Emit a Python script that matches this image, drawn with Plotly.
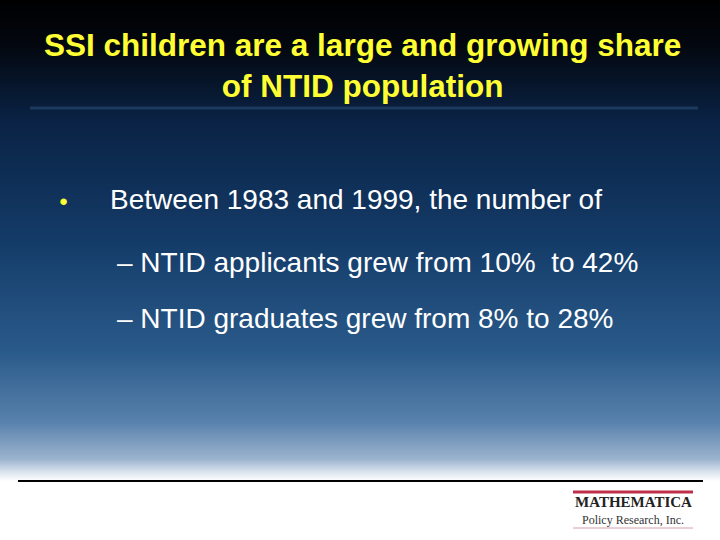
import plotly.graph_objects as go
import numpy as np

title_lines = ["SSI children are a large and growing share", "of NTID population"]
bullet = "Between 1983 and 1999, the number of"
groups = ["NTID applicants", "NTID graduates"]
start_pct = [10, 8]
end_pct = [42, 28]

W, H = 720, 540
ys = np.arange(0, H + 1, 4)
z = [[y / H, y / H] for y in ys]
scale = [[0, '#000000'], [0.08, '#03070e'], [0.22, '#0a2244'], [0.45, '#143c69'],
         [0.65, '#2a5a8a'], [0.78, '#5881ac'], [0.85, '#9cb4ce'], [0.875, '#dfe7f0'],
         [0.89, '#ffffff'], [1, '#ffffff']]

fig = go.Figure(go.Heatmap(x=[0, W], y=ys, z=z, colorscale=scale, showscale=False,
                           hoverinfo='skip', zsmooth='best'))

fig.update_layout(width=W, height=H, margin=dict(l=0, r=0, t=0, b=0),
                  xaxis=dict(range=[0, W], visible=False),
                  yaxis=dict(range=[H, 0], visible=False),
                  plot_bgcolor='white', paper_bgcolor='white')

f = "Liberation Sans, Arial, sans-serif"
fig.add_annotation(x=362, y=65, text="<b>" + "<br>".join(title_lines) + "</b>", showarrow=False,
                   font=dict(family=f, size=31.5, color='#ffff33'), align='center')
fig.add_shape(type='line', x0=30, x1=698, y0=108, y1=108, line=dict(color='#1c3a5e', width=3))
fig.add_annotation(x=63, y=200, text="●", showarrow=False, font=dict(family=f, size=15, color='#ffff33'))
fig.add_annotation(x=108, y=199, text=bullet, showarrow=False, xanchor='left',
                   font=dict(family=f, size=28, color='white'))
texts = [f"– {groups[0]} grew from {start_pct[0]}%  to {end_pct[0]}%",
         f"– {groups[1]} grew from {start_pct[1]}% to {end_pct[1]}%"]
for t, y in zip(texts, [262, 318]):
    fig.add_annotation(x=115, y=y, text=t, showarrow=False, xanchor='left',
                       font=dict(family=f, size=28, color='white'))
fig.add_shape(type='line', x0=18, x1=703, y0=481, y1=481, line=dict(color='black', width=2))
fig.add_shape(type='line', x0=573, x1=693, y0=492, y1=492, line=dict(color='#c0304a', width=3))
fig.add_annotation(x=633, y=502, text="<b>MATHEMATICA</b>", showarrow=False,
                   font=dict(family="Liberation Serif, serif", size=15, color='#222'))
fig.add_annotation(x=633, y=520, text="Policy Research, Inc.", showarrow=False,
                   font=dict(family="Liberation Serif, serif", size=12, color='#333'))
fig.add_shape(type='line', x0=573, x1=693, y0=528, y1=528, line=dict(color='#d0a0aa', width=1))

fig.write_html("out.html", config={"displayModeBar": False},
               post_script="document.body.style.margin='0';")
